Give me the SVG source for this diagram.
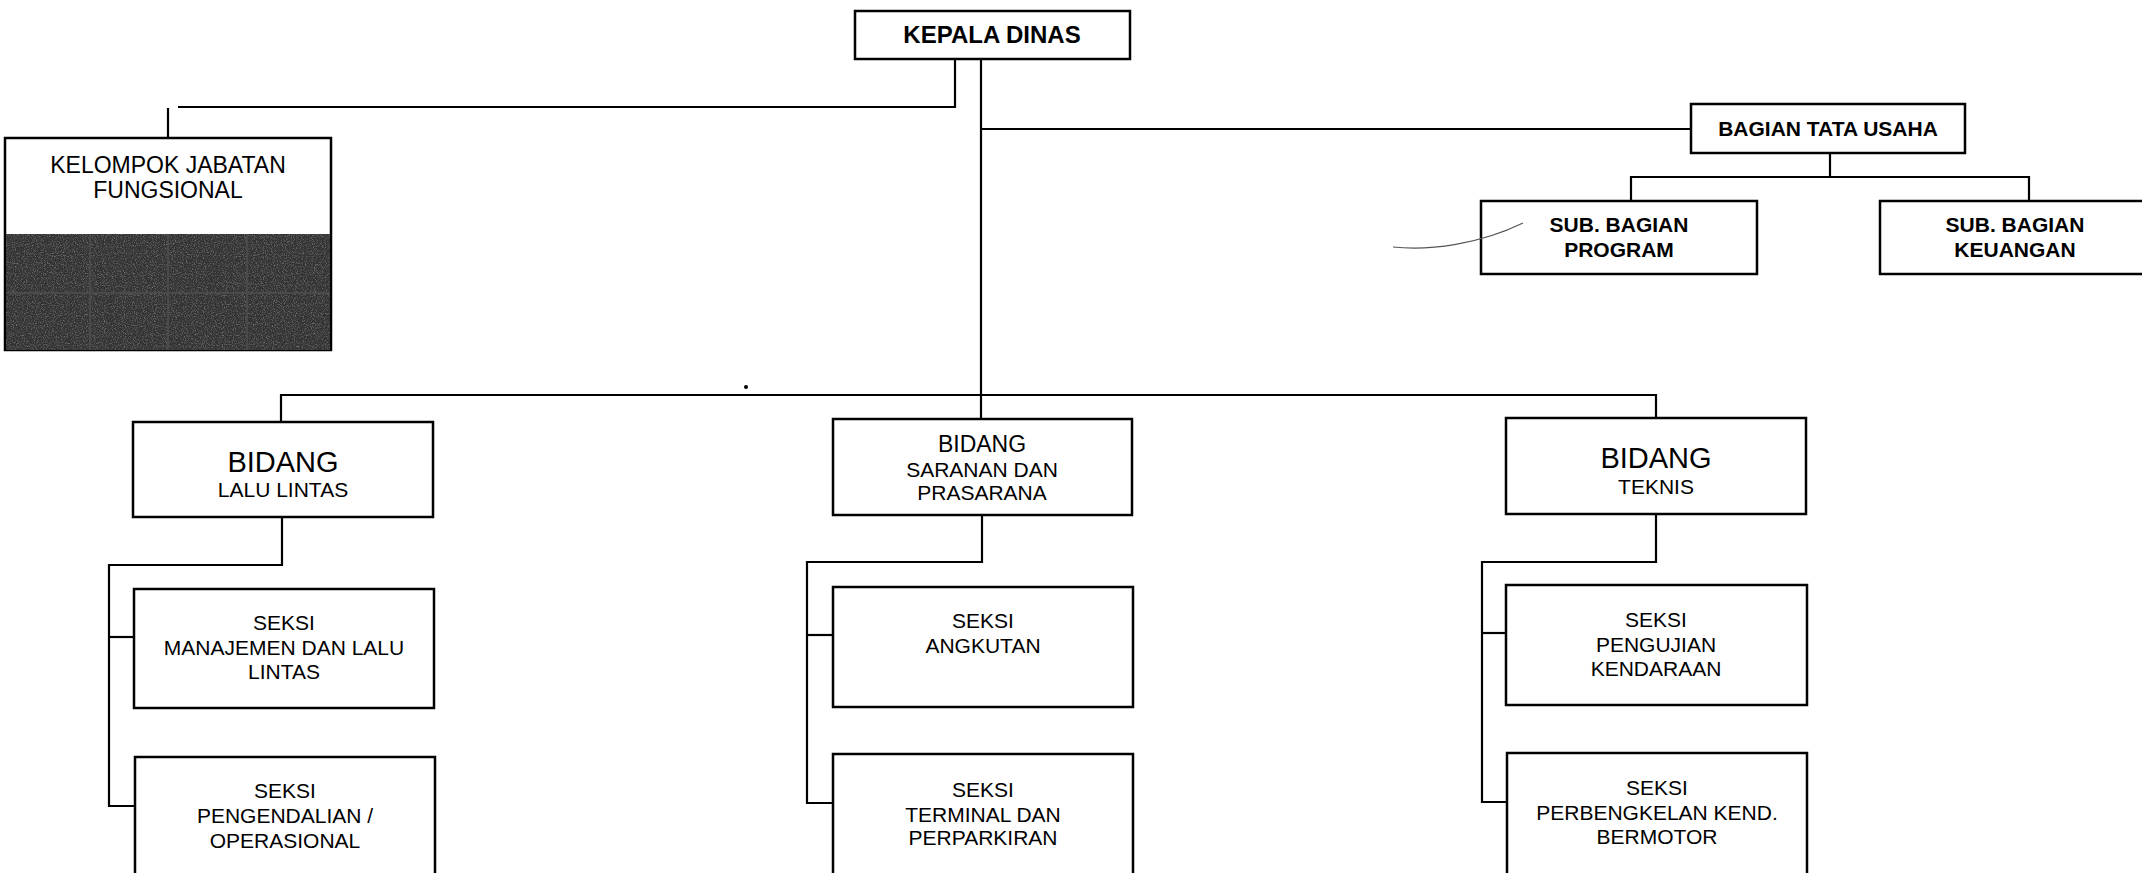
<svg xmlns="http://www.w3.org/2000/svg" width="2142" height="873" viewBox="0 0 2142 873">
<defs>
<style>
.box{fill:#fff;stroke:#000;stroke-width:2.5}
.t{font-family:"Liberation Sans",Arial,sans-serif;fill:#000;text-anchor:middle}
.b{font-weight:bold}
.conn path{fill:none;stroke:#000;stroke-width:2.2}
</style>
<filter id="noise" x="0" y="0" width="100%" height="100%">
<feTurbulence type="fractalNoise" baseFrequency="0.9" numOctaves="2" seed="3" result="n"/>
<feColorMatrix type="matrix" values="0 0 0 0 0.35  0 0 0 0 0.35  0 0 0 0 0.35  0 0 0 1.6 -0.75"/>
</filter>
</defs>
<rect width="2142" height="873" fill="#fff"/>

<g class="conn">
<path d="M955 59 V107 H178"/>
<path d="M168 108 V138"/>
<path d="M981 59 V419"/>
<path d="M981 129 H1691"/>
<path d="M1830 153 V177"/>
<path d="M1631 201 V177 H2029 V201"/>
<path d="M281 422 V395 H1656 V418"/>
<path d="M282 517 V565 H109 V806 H135"/>
<path d="M109 637 H134"/>
<path d="M982 515 V562 H807 V803 H833"/>
<path d="M807 635 H833"/>
<path d="M1656 514 V562 H1482 V802 H1506"/>
<path d="M1482 633 H1506"/>
</g>

<g id="kepala-dinas">
<rect class="box" x="855" y="11" width="275" height="48"/>
<text class="t b" x="992" y="43" font-size="24">KEPALA DINAS</text>
</g>

<g id="kelompok-jabatan-fungsional">
<rect class="box" x="5" y="138" width="326" height="212"/>
<rect x="6" y="234" width="324" height="116" fill="#333"/>
<rect x="6" y="234" width="324" height="116" filter="url(#noise)"/>
<path d="M6 293 H330 M90 234 V350 M168 234 V350 M247 234 V350" stroke="#4a4a4a" stroke-width="2" fill="none"/>
<text class="t" x="168" y="173" font-size="23">KELOMPOK JABATAN</text>
<text class="t" x="168" y="198" font-size="23">FUNGSIONAL</text>
</g>

<g id="bagian-tata-usaha">
<rect class="box" x="1691" y="104" width="274" height="49"/>
<text class="t b" x="1828" y="136" font-size="21">BAGIAN TATA USAHA</text>
</g>

<g id="sub-bagian-program">
<rect class="box" x="1481" y="201" width="276" height="73"/>
<text class="t b" x="1619" y="232" font-size="21">SUB. BAGIAN</text>
<text class="t b" x="1619" y="257" font-size="21">PROGRAM</text>
</g>

<g id="sub-bagian-keuangan">
<rect class="box" x="1880" y="201" width="272" height="73"/>
<text class="t b" x="2015" y="232" font-size="21">SUB. BAGIAN</text>
<text class="t b" x="2015" y="257" font-size="21">KEUANGAN</text>
</g>

<path d="M1393 247 C1430 251, 1480 244, 1523 223" fill="none" stroke="#555" stroke-width="1.2"/>
<circle cx="746" cy="387" r="2" fill="#000"/>

<g id="bidang-lalu-lintas">
<rect class="box" x="133" y="422" width="300" height="95"/>
<text class="t" x="283" y="472" font-size="29">BIDANG</text>
<text class="t" x="283" y="497" font-size="21">LALU LINTAS</text>
</g>

<g id="seksi-manajemen">
<rect class="box" x="134" y="589" width="300" height="119"/>
<text class="t" x="284" y="630" font-size="21">SEKSI</text>
<text class="t" x="284" y="655" font-size="21">MANAJEMEN DAN LALU</text>
<text class="t" x="284" y="679" font-size="21">LINTAS</text>
</g>

<g id="seksi-pengendalian">
<rect class="box" x="135" y="757" width="300" height="130"/>
<text class="t" x="285" y="798" font-size="21">SEKSI</text>
<text class="t" x="285" y="823" font-size="21">PENGENDALIAN /</text>
<text class="t" x="285" y="848" font-size="21">OPERASIONAL</text>
</g>

<g id="bidang-saranan">
<rect class="box" x="833" y="419" width="299" height="96"/>
<text class="t" x="982" y="452" font-size="23">BIDANG</text>
<text class="t" x="982" y="477" font-size="21">SARANAN DAN</text>
<text class="t" x="982" y="500" font-size="21">PRASARANA</text>
</g>

<g id="seksi-angkutan">
<rect class="box" x="833" y="587" width="300" height="120"/>
<text class="t" x="983" y="628" font-size="21">SEKSI</text>
<text class="t" x="983" y="653" font-size="21">ANGKUTAN</text>
</g>

<g id="seksi-terminal">
<rect class="box" x="833" y="754" width="300" height="130"/>
<text class="t" x="983" y="797" font-size="21">SEKSI</text>
<text class="t" x="983" y="822" font-size="21">TERMINAL DAN</text>
<text class="t" x="983" y="845" font-size="21">PERPARKIRAN</text>
</g>

<g id="bidang-teknis">
<rect class="box" x="1506" y="418" width="300" height="96"/>
<text class="t" x="1656" y="468" font-size="29">BIDANG</text>
<text class="t" x="1656" y="494" font-size="21">TEKNIS</text>
</g>

<g id="seksi-pengujian">
<rect class="box" x="1506" y="585" width="301" height="120"/>
<text class="t" x="1656" y="627" font-size="21">SEKSI</text>
<text class="t" x="1656" y="652" font-size="21">PENGUJIAN</text>
<text class="t" x="1656" y="676" font-size="21">KENDARAAN</text>
</g>

<g id="seksi-perbengkelan">
<rect class="box" x="1507" y="753" width="300" height="130"/>
<text class="t" x="1657" y="795" font-size="21">SEKSI</text>
<text class="t" x="1657" y="820" font-size="21">PERBENGKELAN KEND.</text>
<text class="t" x="1657" y="844" font-size="21">BERMOTOR</text>
</g>
</svg>
